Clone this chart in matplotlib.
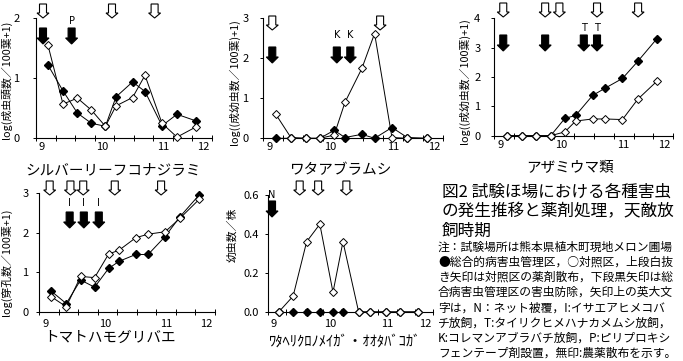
import numpy as np
import matplotlib
matplotlib.use('Agg')
import matplotlib.pyplot as plt
from matplotlib.patches import Polygon
import matplotlib.transforms as mtransforms

plt.rcParams['font.family'] = ['Noto Sans CJK JP', 'DejaVu Sans']

W, H = 683, 361

# observation dates, days from 1 Sep
days = [3, 10.5, 17.7, 24.7, 31.7, 37, 45.3, 51.5, 60, 67.5, 77]
month_pos = [0, 30, 60.5, 80.5]
month_labels = ['9', '10', '11', '12']

# filled = IPM plot, open = control plot
whitefly_ipm = [1.22, 0.79, 0.42, 0.25, 0.20, 0.69, 0.94, 0.78, 0.21, 0.40, 0.29]
whitefly_ctrl = [1.55, 0.57, 0.67, 0.47, 0.20, 0.54, 0.68, 1.05, 0.25, 0.02, 0.19]
aphid_ipm = [0, 0, 0, 0, 0.20, 0.02, 0.10, 0.0, 0.27, 0.02, 0]
aphid_ctrl = [0.61, 0.02, 0, 0, 0.08, 0.90, 1.75, 2.62, 0.02, 0, 0]
thrips_ipm = [0, 0, 0, 0, 0.59, 0.69, 1.37, 1.62, 1.95, 2.53, 3.31]
thrips_ctrl = [0, 0, 0, 0, 0.13, 0.50, 0.57, 0.57, 0.55, 1.24, 1.86]
miner_ipm = [0.53, 0.22, 0.81, 0.63, 1.10, 1.28, 1.45, 1.45, 1.90, 2.40, 2.94]
miner_ctrl = [0.39, 0.14, 0.90, 0.87, 1.46, 1.56, 1.87, 1.96, 2.02, 2.36, 2.83]
moth_ipm = [0, 0, 0, 0, 0, 0, 0, 0, 0, 0, 0]
moth_ctrl = [0, 0.08, 0.36, 0.45, 0.10, 0.36, 0, 0, 0, 0, 0]

# treatment dates (days) for each panel
whitefly_spray = [0.5, 35, 56.3]
whitefly_ipm_treat = [0.5, 14.8]
whitefly_tags = {14.8: 'P'}
aphid_spray = [1.4, 54.2]
aphid_ipm_treat = [1.4, 33, 39.6]
aphid_tags = {33: 'K', 39.6: 'K'}
thrips_spray = [1.4, 22, 29, 47.5, 67.7]
thrips_ipm_treat = [1.4, 22, 41, 47.5]
thrips_tags = {41: 'T', 47.5: 'T'}
miner_spray = [2.2, 12.6, 19, 34.8, 58]
miner_ipm_treat = [12.2, 19.3, 26.8]
miner_tags = {12.2: 'I', 19.3: 'I', 26.8: 'I'}
moth_spray = [14, 23.8, 38.8]
moth_ipm_treat = [-0.7]
moth_tags = {-0.7: 'N'}

fig = plt.figure(figsize=(W / 100, H / 100), dpi=100)


def make_ax(l, r, t, b):
    return fig.add_axes([l / W, 1 - b / H, (r - l) / W, (b - t) / H])


def arrow(ax, x, tip, filled, h, sw=7, hw=12, hl=5):
    xd = ax.transData.transform((x, 0))[0]
    yd = H - tip
    pts = [(-sw / 2, h), (sw / 2, h), (sw / 2, hl), (hw / 2, hl), (0, 0),
           (-hw / 2, hl), (-sw / 2, hl)]
    pts = [(xd + px, yd + py) for px, py in pts]
    fig.patches.append(Polygon(pts, closed=True, transform=mtransforms.IdentityTransform(),
                               fc='black' if filled else 'white', ec='black', lw=0.8,
                               figure=fig))


def panel(box, ipm, ctrl, ymax, yticks, ylabels, xpad, ypad):
    ax = make_ax(*box)
    ax.plot(days, ipm, '-', color='black', lw=0.7, marker='D', ms=4.2,
            mfc='black', mec='black', zorder=3, clip_on=False)
    ax.plot(days, ctrl, '-', color='black', lw=0.7, marker='D', ms=4.2,
            mfc='white', mec='black', mew=0.7, zorder=4, clip_on=False)
    ax.set_xlim(-3, 85)
    ax.set_ylim(0, ymax)
    ax.spines['top'].set_visible(False)
    ax.spines['right'].set_visible(False)
    ax.set_xticks(month_pos)
    ax.set_xticklabels(month_labels)
    ax.set_xticks(np.linspace(-3, 85, 10), minor=True)
    ax.tick_params(axis='x', which='major', length=0, pad=xpad, labelsize=8)
    ax.tick_params(axis='x', which='minor', direction='inout', length=4, width=0.7)
    ax.set_yticks(yticks)
    ax.set_yticklabels(ylabels)
    ax.tick_params(axis='y', direction='out', length=2, width=0.7, pad=ypad, labelsize=8)
    for s in ('left', 'bottom'):
        ax.spines[s].set_linewidth(0.8)
    return ax


def treatments(ax, spray, spray_tip, treat, treat_tip, tags, tag_y):
    for x in spray:
        arrow(ax, x, spray_tip, False, 14)
    for x in treat:
        arrow(ax, x, treat_tip, True, 16, hl=6)
        if x in tags:
            xd = ax.transData.transform((x, 0))[0]
            fig.text(xd / W, 1 - tag_y / H, tags[x], ha='center', va='center',
                     fontsize=7, family='DejaVu Sans')


ax1 = panel((36, 212, 18.3, 138.3), whitefly_ipm, whitefly_ctrl, 2,
            [0, 1, 2], ['0', '1', '2'], 2.5, 10)
treatments(ax1, whitefly_spray, 18, whitefly_ipm_treat, 44, whitefly_tags, 21)

ax2 = panel((263.3, 443, 18.3, 138.3), aphid_ipm, aphid_ctrl, 3,
            [0, 1, 2, 3], ['0', '1', '2', '3'], 2.5, 8.6)
treatments(ax2, aphid_spray, 30, aphid_ipm_treat, 63, aphid_tags, 35)

ax3 = panel((494.3, 673.3, 18.3, 135.7), thrips_ipm, thrips_ctrl, 4,
            [0, 1, 2, 3, 4], ['0', '1', '2', '3', '4'], 3, 8)
treatments(ax3, thrips_spray, 17, thrips_ipm_treat, 51, thrips_tags, 28)

ax4 = panel((39.3, 215, 192.7, 312.3), miner_ipm, miner_ctrl, 3,
            [0, 1, 2, 3], ['0', '1', '2', '3'], 5, 5.8)
treatments(ax4, miner_spray, 195, miner_ipm_treat, 228, miner_tags, 203)

ax5 = panel((267.7, 433.3, 195, 311.7), moth_ipm, moth_ctrl, 0.6,
            [0, 0.2, 0.4, 0.6], ['0.0', '0.2', '0.4', '0.6'], 5.5, 4.6)
treatments(ax5, moth_spray, 195, moth_ipm_treat, 217, moth_tags, 195)


def ftext(x, y, s, **kw):
    fig.text(x / W, 1 - y / H, s, **kw)


# y axis labels
ftext(6, 80, 'log(成虫頭数／100葉+1)', rotation=90, ha='center', va='center', fontsize=7.8)
ftext(234, 82, 'log((成幼虫数／100葉)+1)', rotation=90, ha='center', va='center', fontsize=7.8)
ftext(464, 81, 'log((成幼虫数／100葉)+1)', rotation=90, ha='center', va='center', fontsize=7.8)
ftext(6, 262, 'log(穿孔数／100葉+1)', rotation=90, ha='center', va='center', fontsize=7.8)
ftext(232, 235, '幼虫数／株', rotation=90, ha='center', va='center', fontsize=7.8)

# panel names
ftext(113, 170, 'シルバーリーフコナジラミ', ha='center', va='center', fontsize=10.5)
ftext(340, 170, 'ワタアブラムシ', ha='center', va='center', fontsize=10.5)
ftext(570, 168, 'アザミウマ類', ha='center', va='center', fontsize=10.5)
ftext(110, 338, 'トマトハモグリバエ', ha='center', va='center', fontsize=10.5)
ftext(345, 342, 'ﾜﾀﾍﾘｸﾛﾉﾒｲｶﾞ・ｵｵﾀﾊﾞｺｶﾞ', ha='center', va='center', fontsize=10.5)

# caption
caption = ['図2 試験ほ場における各種害虫',
           'の発生推移と薬剤処理，天敵放',
           '飼時期']
for i, line in enumerate(caption):
    ftext(442, 192 + i * 19.5, line, ha='left', va='center', fontsize=12)

notes = ['注：試験場所は熊本県植木町現地メロン圃場',
         '●総合的病害虫管理区，○対照区，上段白抜',
         'き矢印は対照区の薬剤散布，下段黒矢印は総',
         '合病害虫管理区の害虫防除，矢印上の英大文',
         '字は，N：ネット被覆，I:イサエアヒメコバ',
         'チ放飼，T:タイリクヒメハナカメムシ放飼，',
         'K:コレマンアブラバチ放飼，P:ピリプロキシ',
         'フェンテープ剤設置，無印:農薬散布を示す。']
for i, line in enumerate(notes):
    ftext(438, 247 + i * 15.2, line, ha='left', va='center', fontsize=8.5)

fig.savefig('out.png', dpi=100)
